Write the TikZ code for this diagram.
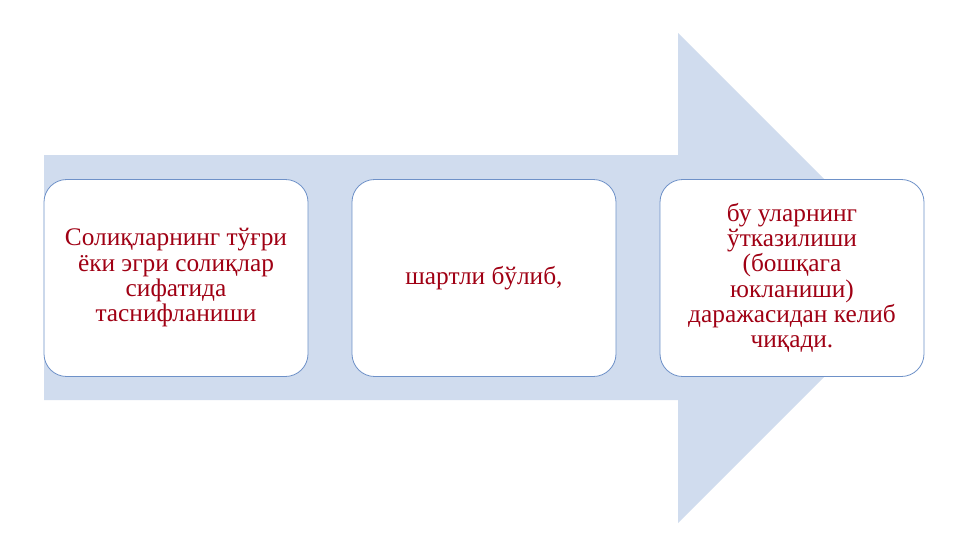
\documentclass[tikz,border=0pt]{standalone}
\usepackage{fontspec}
\setmainfont{Liberation Serif}
\definecolor{arrowfill}{RGB}{208,220,238}
\definecolor{boxline}{RGB}{110,145,200}
\definecolor{txtred}{RGB}{160,0,20}
\begin{document}
\begin{tikzpicture}[x=0.75pt,y=-0.75pt,
  stagebox/.style={draw=boxline,line width=0.6pt,fill=white,rounded corners=17pt,
    minimum width=264*0.75pt,minimum height=197*0.75pt,align=center,
    text=txtred,inner sep=0pt,
    font=\fontsize{19pt}{19pt}\selectfont}]
\useasboundingbox (0,0) rectangle (960,540);
\fill[white] (0,0) rectangle (960,540);
% big background arrow
\fill[arrowfill] (44,155) -- (678,155) -- (678,33) -- (923,278) -- (678,523) -- (678,400) -- (44,400) -- cycle;
\node[stagebox] (b1) at (176,278) {Солиқларнинг тўғри\\ёки эгри солиқлар\\сифатида\\таснифланиши};
\node[stagebox] (b2) at (484,278) {шартли бўлиб,};
\node[stagebox] (b3) at (792,278) {бу уларнинг\\ўтказилиши\\(бошқага\\юкланиши)\\даражасидан келиб\\чиқади.};
\end{tikzpicture}
\end{document}
